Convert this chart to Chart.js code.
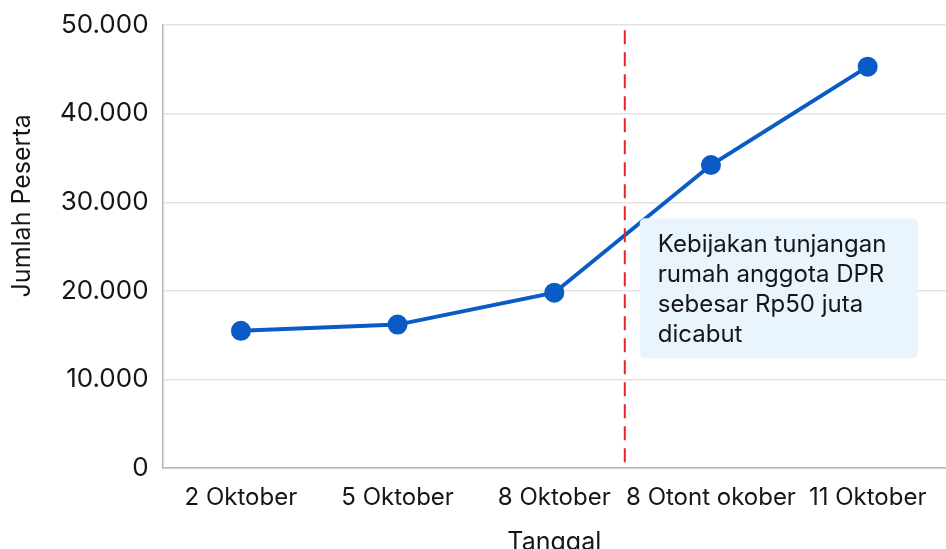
<!DOCTYPE html>
<html>
<head>
<meta charset="utf-8">
<script src="https://cdn.jsdelivr.net/npm/chart.js@4.4.1/dist/chart.umd.min.js"></script>
<style>
html,body{margin:0;padding:0;background:#fff;}
#wrap{width:946px;height:549px;position:relative;}
</style>
</head>
<body>
<div id="wrap"><canvas id="c" width="946" height="549"></canvas></div>
<script>
const categories = ["2 Oktober", "5 Oktober", "8 Oktober", "8 Otont okober", "11 Oktober"];
const participants = [15500, 16200, 19800, 34200, 45300];
const yTicks = [0, 10000, 20000, 30000, 40000, 50000];
const yTitle = "Jumlah Peserta";
const xTitle = "Tanggal";
const policyMarkerIndex = 2.45;
const noteLines = ["Kebijakan tunjangan", "rumah anggota DPR", "sebesar Rp50 juta", "dicabut"];

const FONT = "Inter, 'Noto Sans', sans-serif";

const markerPlugin = {
  id: 'marker',
  afterDatasetsDraw(chart) {
    const ctx = chart.ctx;
    const ys = chart.scales.y;
    const x = chart.scales.x.getPixelForValue(policyMarkerIndex);
    const yTop = ys.getPixelForValue(49400);
    const yBot = ys.getPixelForValue(0);
    ctx.save();
    ctx.strokeStyle = '#E8232A';
    ctx.lineWidth = 2;
    ctx.setLineDash([14, 8]);
    ctx.beginPath();
    ctx.moveTo(x, yTop);
    ctx.lineTo(x, yBot);
    ctx.stroke();
    ctx.setLineDash([]);
    // note box
    const bx = x + 15, by = ys.getPixelForValue(28200);
    const bw = 278, bh = 140;
    ctx.fillStyle = '#EAF4FD';
    ctx.beginPath();
    ctx.roundRect(bx, by, bw, bh, 5);
    ctx.fill();
    ctx.fillStyle = '#161616';
    ctx.font = "24px " + FONT;
    ctx.textBaseline = 'middle';
    ctx.textAlign = 'left';
    noteLines.forEach((t, i) => ctx.fillText(t, bx + 18, by + 27 + i * 29.7));
    // y axis title
    ctx.translate(22, ys.getPixelForValue(29600));
    ctx.rotate(-Math.PI / 2);
    ctx.textAlign = 'center';
    ctx.font = "25px " + FONT;
    ctx.fillText(yTitle, 0, 0);
    ctx.restore();
  }
};

new Chart(document.getElementById('c'), {
  type: 'line',
  data: {
    labels: categories,
    datasets: [{
      data: participants,
      borderColor: '#0A5BC6',
      backgroundColor: '#0A5BC6',
      borderWidth: 4,
      pointRadius: 8,
      pointHoverRadius: 8,
      pointBackgroundColor: '#0A5BC6',
      pointBorderColor: '#0A5BC6',
      tension: 0
    }]
  },
  options: {
    responsive: false,
    animation: false,
    devicePixelRatio: 1,
    layout: { autoPadding: false, padding: { left: 46, right: 0, top: 25, bottom: -8 } },
    plugins: { legend: { display: false }, tooltip: { enabled: false } },
    scales: {
      x: {
        offset: true,
        afterFit(s) { s.paddingLeft = 0; s.paddingRight = 0; },
        grid: { display: false, drawTicks: false },
        border: { display: true, color: '#B5B5B5', width: 1.5 },
        ticks: { color: '#161616', font: { family: FONT, size: 24 }, padding: 15, maxRotation: 0, autoSkip: false },
        title: { display: true, text: xTitle, color: '#161616', font: { family: FONT, size: 25 }, padding: { top: 0, bottom: 0 } }
      },
      y: {
        min: 0, max: 50000,
        afterFit(s) { s.paddingTop = 0; s.paddingBottom = 0; },
        afterBuildTicks(axis) { axis.ticks = yTicks.map(v => ({ value: v })); },
        grid: { color: '#E3E3E3', lineWidth: 1.5, drawTicks: false },
        border: { display: true, color: '#B5B5B5', width: 1.5 },
        ticks: {
          color: '#161616', font: { family: FONT, size: 26 }, padding: 14,
          callback: v => v.toLocaleString('de-DE')
        },
        title: { display: false }
      }
    }
  },
  plugins: [markerPlugin]
});
</script>
</body>
</html>
